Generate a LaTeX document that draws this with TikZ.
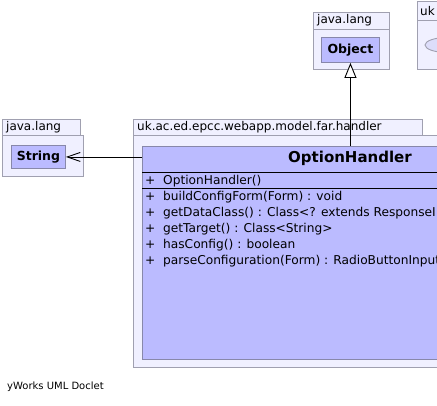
\documentclass[tikz,border=0pt]{standalone}
\usepackage{fontspec}
\setmainfont{DejaVu Sans}
\usetikzlibrary{arrows.meta}
\definecolor{pkgfill}{RGB}{240,240,255}
\definecolor{pkgline}{RGB}{160,160,176}
\definecolor{clsfill}{RGB}{187,187,255}
\definecolor{clsline}{RGB}{136,136,170}
\definecolor{ellfill}{RGB}{221,221,250}
\begin{document}
\begin{tikzpicture}[x=1pt,y=-1pt,
  pkg/.style={draw=pkgline, fill=pkgfill, line width=0.9pt},
  cls/.style={draw=clsline, fill=clsfill, line width=0.9pt, inner sep=0pt},
  lbl/.style={font=\fontsize{12}{14}\selectfont, inner sep=0pt, anchor=west},
  member/.style={font=\fontsize{12.2}{14}\selectfont, inner sep=0pt, anchor=west},
  clsname/.style={font=\fontsize{12.5}{14}\selectfont\bfseries},
  sep/.style={draw=black, line width=0.9pt},
  inherit/.style={-{Triangle[open,length=15pt,width=12pt,fill=white]}, line width=0.9pt},
  depend/.style={-{Straight Barb[length=13pt,width=9pt]}, line width=0.9pt}]
\useasboundingbox (0,0) rectangle (437,405);
\clip (0,0) rectangle (437,405);

% package uk (top right, cut off)
\path[pkg] (417,1) rectangle (470,20);
\path[pkg] (417,20) rectangle (480,69);
\node[lbl] (pkgUk) at (420,11) {uk};
\path[draw=pkgline, fill=ellfill, line width=0.9pt] (447,45) ellipse (22 and 7.5);

% package java.lang (top)
\path[pkg] (313,12) rectangle (389,29);
\path[pkg] (313,29) rectangle (389,69);
\node[lbl] (pkgObj) at (317,20.5) {java.lang};
\node[cls, clsname, minimum width=58, minimum height=25, anchor=north west] (obj) at (321,37) {Object};

% package java.lang (left)
\path[pkg] (2,119) rectangle (80,135);
\path[pkg] (2,135) rectangle (83,176);
\node[lbl] (pkgStr) at (6,127) {java.lang};
\node[cls, clsname, minimum width=54, minimum height=23, anchor=north west] (str) at (11,145) {String};

% package handler
\path[pkg] (133,119) rectangle (422,135);
\path[pkg] (133,135) rectangle (580,367);
\node[lbl] (pkgHandler) at (137,127) {uk.ac.ed.epcc.webapp.model.far.handler};

% class OptionHandler
\node[cls, minimum width=416, minimum height=213, anchor=north west] (oh) at (142,146) {};
\node[font=\fontsize{15}{17}\selectfont\bfseries, inner sep=0pt] (ohname) at (350,158.5) {OptionHandler};
\draw[sep] (142,172) -- (560,172);
\draw[sep] (142,188) -- (560,188);
\node[member] (c1) at (145,181) {+ \ OptionHandler()};
\node[member] (m1) at (145,197) {+ \ buildConfigForm(Form) : void};
\node[member] (m2) at (145,213) {+ \ getDataClass() : Class<? extends ResponseI};
\node[member] (m3) at (145,229) {+ \ getTarget() : Class<String>};
\node[member] (m4) at (145,245) {+ \ hasConfig() : boolean};
\node[member] (m5) at (145,261) {+ \ parseConfiguration(Form) : RadioButtonInput};

% connectors
\draw[inherit] (oh.north) -- (obj.south);
\draw[depend] (str.east -| oh.west) -- (str.east);

\node[font=\fontsize{10}{12}\selectfont, inner sep=0pt, anchor=west] (footer) at (7,387) {yWorks UML Doclet};
\end{tikzpicture}
\end{document}
